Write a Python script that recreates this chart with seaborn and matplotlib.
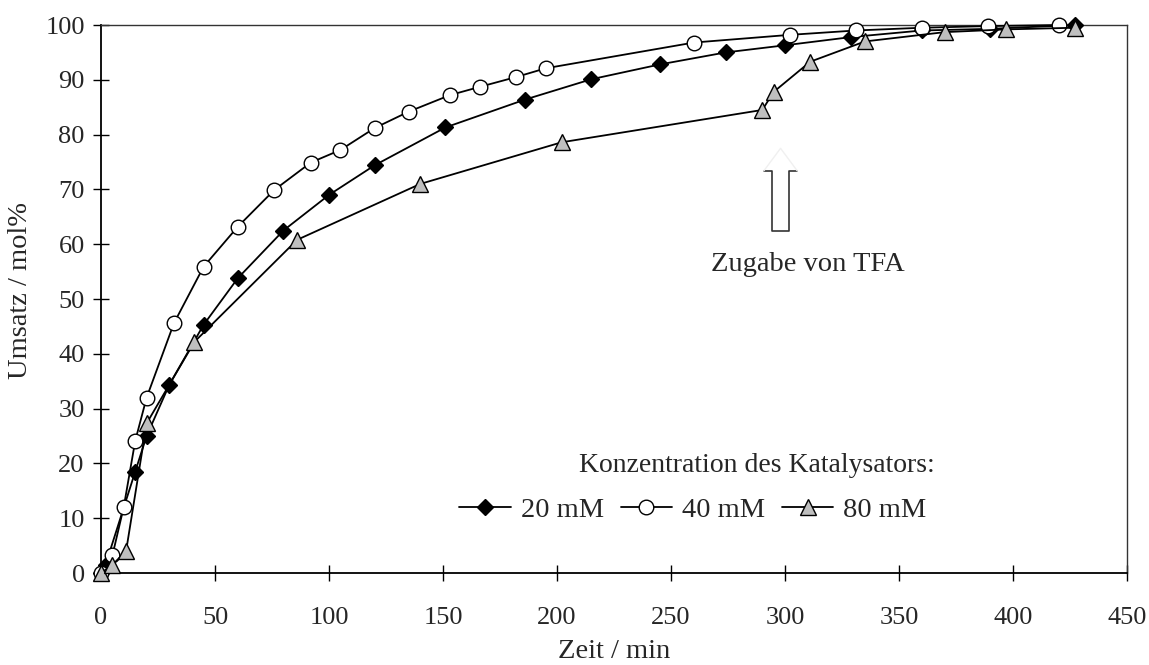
import numpy as np
import pandas as pd
import seaborn as sns
import matplotlib.pyplot as plt

# Umsatz vs. Zeit for three catalyst concentrations
t_20 = [0, 2, 15, 20, 30, 45, 60, 80, 100, 120, 151, 186, 215, 245, 274, 300, 329, 360, 390, 427]
u_20 = [0, 1.5, 18.5, 25, 34.4, 45.3, 53.8, 62.5, 69, 74.4, 81.3, 86.4, 90.1, 92.8, 95, 96.3, 97.8, 99, 99.3, 100]

t_40 = [0, 5, 10, 15, 20, 32, 45, 60, 76, 92, 105, 120, 135, 153, 166, 182, 195, 260, 302, 331, 360, 389, 420]
u_40 = [0, 3.2, 12.1, 24.1, 32, 45.6, 55.9, 63.2, 69.9, 74.9, 77.2, 81.2, 84.2, 87.2, 88.7, 90.5, 92.1,
        96.8, 98.2, 99, 99.5, 99.8, 100]

t_80 = [0, 5, 11, 20, 41, 86, 140, 202, 290, 295, 311, 335, 370, 397, 427]
u_80 = [0, 1.5, 4, 27.3, 42.2, 60.8, 71, 78.6, 84.5, 87.8, 93.3, 97, 98.7, 99.2, 99.5]

labels = ["20 mM", "40 mM", "80 mM"]

df = pd.concat([
    pd.DataFrame({"Zeit": t_20, "Umsatz": u_20, "conc": labels[0]}),
    pd.DataFrame({"Zeit": t_40, "Umsatz": u_40, "conc": labels[1]}),
    pd.DataFrame({"Zeit": t_80, "Umsatz": u_80, "conc": labels[2]}),
], ignore_index=True)

sns.set_style("white")
plt.rcParams["font.family"] = ["Liberation Serif", "DejaVu Serif"]

fs_tick = 19
fs_text = 20.5

fig, ax = plt.subplots(figsize=(11.49, 6.65), dpi=100)
fig.subplots_adjust(left=0.0879, right=0.981, top=0.9624, bottom=0.1383)

styles = {
    "20 mM": dict(marker="D", markersize=7.8, markerfacecolor="black"),
    "40 mM": dict(marker="o", markersize=10.5, markerfacecolor="white"),
    "80 mM": dict(marker="^", markersize=11, markerfacecolor="#bfbfbf"),
}
for i, c in enumerate(labels):
    sub = df[df["conc"] == c]
    sns.lineplot(data=sub, x="Zeit", y="Umsatz", ax=ax, color="black", lw=1.3,
                 markeredgecolor="black", markeredgewidth=1.0, sort=False,
                 estimator=None, label=c, clip_on=False, zorder=3 + i, **styles[c])

ax.set_xlim(0, 450)
ax.set_ylim(0, 100)
ax.set_xticks(np.arange(0, 451, 50))
ax.set_yticks(np.arange(0, 101, 10))
ax.tick_params(direction="inout", length=11.5, width=1.0, color="black",
               labelsize=fs_tick, left=True, bottom=True)
ax.tick_params(axis="y", pad=6)
ax.tick_params(axis="x", pad=19)

for s in ["left", "bottom"]:
    ax.spines[s].set_color("black")
    ax.spines[s].set_linewidth(1.3)
for s in ["top", "right"]:
    ax.spines[s].set_color("#333333")
    ax.spines[s].set_linewidth(1.0)

ax.set_xlabel("Zeit / min", fontsize=fs_text, labelpad=7)
ax.set_ylabel("Umsatz / mol%", fontsize=fs_text)
ax.yaxis.set_label_coords(-0.066, 0.515)

# hollow arrow marking the TFA addition
ax_x, ax_half, head_half = 298, 3.65, 7.3
base, shoulder, tip = 62.5, 73.4, 77.5
ax.plot([ax_x - head_half, ax_x - ax_half, ax_x - ax_half, ax_x + ax_half, ax_x + ax_half, ax_x + head_half],
        [shoulder, shoulder, base, base, shoulder, shoulder], color="#333333", lw=1.2, zorder=2)
ax.plot([ax_x - head_half, ax_x, ax_x + head_half], [shoulder, tip, shoulder],
        color="#f0f0f0", lw=1.0, zorder=2)
ax.text(310, 56.3, "Zugabe von TFA", fontsize=fs_text, ha="center", va="center")

ax.text(287.7, 19.7, "Konzentration des Katalysators:", fontsize=20, ha="center", va="center")
leg = ax.legend(loc="center", bbox_to_anchor=(259.6, 11.5), bbox_transform=ax.transData,
                ncol=3, frameon=False, fontsize=fs_text, numpoints=1, handlelength=1.8,
                handletextpad=0.35, columnspacing=0.6, borderpad=0)

fig.savefig("out.png", dpi=100)
